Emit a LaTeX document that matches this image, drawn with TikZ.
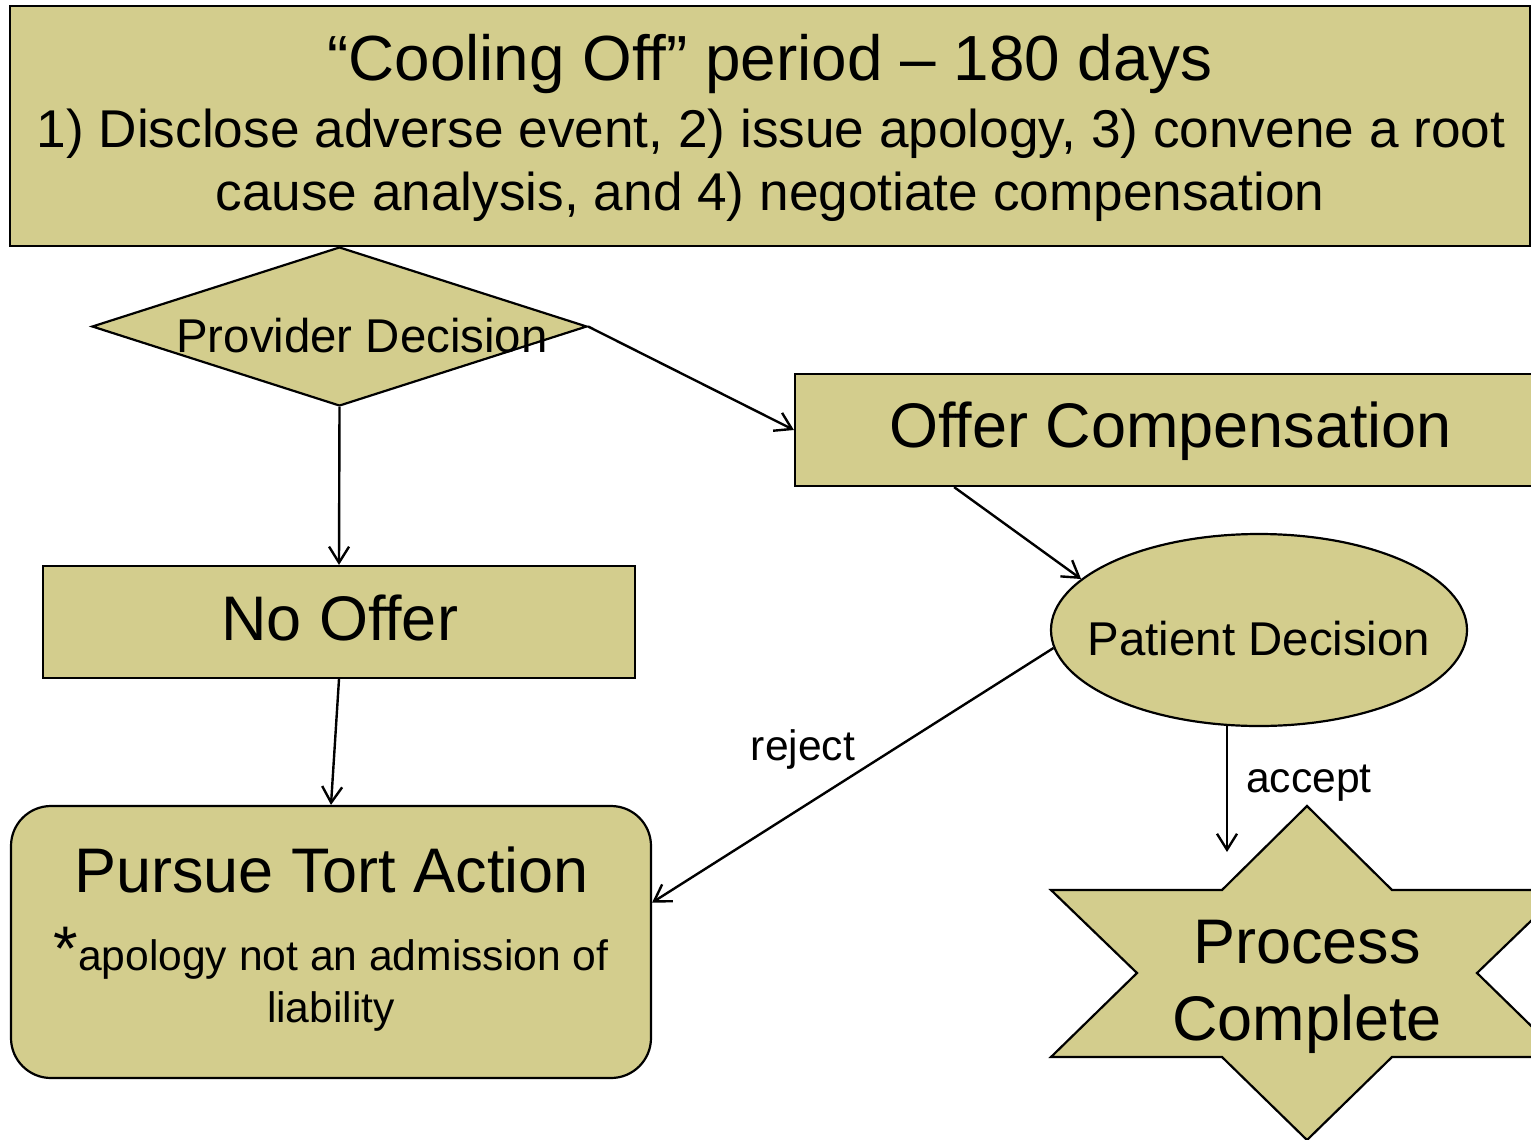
\documentclass[tikz,border=0pt]{standalone}
\usepackage{fontspec}
\setmainfont{Liberation Sans}
\usetikzlibrary{shapes.geometric,arrows.meta,calc}
\definecolor{khaki}{RGB}{211,205,141}
\begin{document}
\begin{tikzpicture}[x=0.5pt,y=-0.5pt,
  shapebox/.style={draw=black,fill=khaki,line width=1.1pt,inner sep=0pt},
  flow/.style={draw=black,line width=1.2pt,-{Straight Barb[length=8pt,width=10pt,line width=1.2pt]}},
  txt/.style={anchor=base,inner sep=0pt},
  huge/.style={font=\fontsize{31.5}{37}\selectfont},
  title/.style={font=\fontsize{31.9}{37}\selectfont},
  mid/.style={font=\fontsize{26.6}{32}\selectfont},
  dec/.style={font=\fontsize{23.7}{28}\selectfont},
  small/.style={font=\fontsize{21.3}{26}\selectfont}]
\useasboundingbox (0,0) rectangle (1531,1140);
\clip (0,0) rectangle (1531,1140);

% cooling-off banner
\node[shapebox,rectangle,minimum width=760pt,minimum height=120pt] (cool) at (770,126) {};
\node[txt,title] (coolA) at (770,80) {“Cooling Off” period – 180 days};
\node[txt,mid] (coolB) at (771,147) {1) Disclose adverse event, 2) issue apology, 3) convene a root};
\node[txt,mid] (coolC) at (770,210) {cause analysis, and 4) negotiate compensation};

% provider decision
\node[shapebox,diamond,minimum width=247.5pt,minimum height=79.5pt] (prov) at (339.5,326.5) {};
\node[txt,dec] (provT) at (362,352) {Provider Decision};

% offer compensation
\node[shapebox,rectangle,minimum width=375pt,minimum height=56pt] (offer) at (1170,430) {};
\node[txt,huge] (offerT) at (1170.5,447) {Offer Compensation};

% no offer
\node[shapebox,rectangle,minimum width=296pt,minimum height=56pt] (nooff) at (339,622) {};
\node[txt,huge] (nooffT) at (339.5,640) {No Offer};

% patient decision
\node[shapebox,ellipse,minimum width=208pt,minimum height=96pt] (pat) at (1259,630) {};
\node[txt,dec] (patT) at (1259,655) {Patient Decision};

% tort action
\node[shapebox,rectangle,rounded corners=20pt,minimum width=320pt,minimum height=136pt] (tort) at (331,942) {};
\node[txt,huge] (tortT) at (331.5,892) {Pursue Tort Action};
\node[txt] (tortN) at (331,970) {{\fontsize{31.5}{37}\selectfont *}{\fontsize{21.3}{26}\selectfont apology not an admission of}};
\node[txt,small] (tortL) at (331,1022) {liability};

% process complete star
\path[shapebox] (1307,806) -- (1392,890) -- (1563,890) -- (1477,973) -- (1563,1057)
  -- (1392,1057) -- (1307,1140) -- (1222,1057) -- (1051,1057) -- (1137,973)
  -- (1051,890) -- (1222,890) -- cycle;
\node[txt,huge] (procA) at (1307,963) {Process};
\node[txt,huge] (procB) at (1307,1040) {Complete};

% connectors
\coordinate (acc) at (1227,852);
\draw[flow] (prov.east) -- (offer.west);
\draw[flow] (prov.south) -- (nooff.north);
\draw[flow] ($(offer.south west)!0.213!(offer.south east)$) -- (pat.164);
\draw[flow] (nooff.south) -- (tort.north);
\draw[flow] (pat.185) -- (tort.7.5);
\draw[flow] (pat.251 -| acc) -- (acc);

% branch labels
\node[txt,small] (rej) at (803,760) {reject};
\node[txt,small] (accT) at (1309,792) {accept};
\end{tikzpicture}
\end{document}
